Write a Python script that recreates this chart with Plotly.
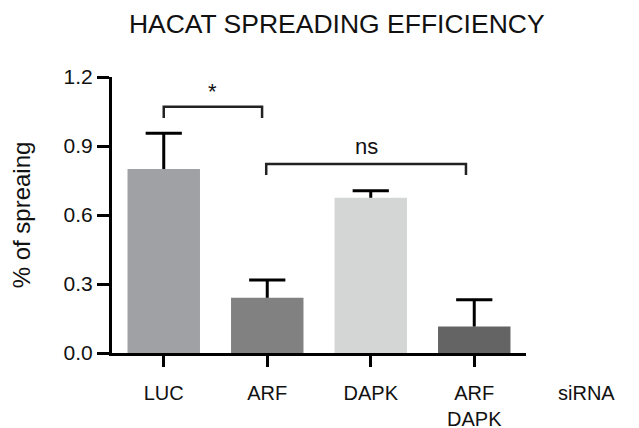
import plotly.graph_objects as go

categories = ["LUC", "ARF", "DAPK", "ARF<br>DAPK"]
values = [0.80, 0.24, 0.675, 0.115]
errors_up = [0.155, 0.077, 0.030, 0.116]
bar_colors = ["#a0a1a5", "#808180", "#d4d5d5", "#646464"]
y_ticks = [0.0, 0.3, 0.6, 0.9, 1.2]
y_tick_labels = ["0.0", "0.3", "0.6", "0.9", "1.2"]

# significance brackets: (x_left, x_right, y_top, y_bottom, label, label_y)
brackets = [
    (0.0, 0.95, 1.071, 1.022, "*", 1.135),
    (0.99, 2.92, 0.822, 0.774, "ns", 0.90),
]

FONT = "Liberation Sans, Arial, sans-serif"
CAP = 0.175  # half cap width in category units

xs = list(range(len(categories)))

fig = go.Figure()
fig.add_trace(go.Bar(
    x=xs, y=values,
    marker=dict(color=bar_colors, line=dict(width=0)),
    width=0.7, showlegend=False,
))

# upward-only error bars built from the data
ex, ey = [], []
for i, v, e in zip(xs, values, errors_up):
    ex += [i, i, None, i - CAP, i + CAP, None]
    ey += [v, v + e, None, v + e, v + e, None]
fig.add_trace(go.Scatter(x=ex, y=ey, mode="lines",
                         line=dict(color="black", width=3),
                         showlegend=False, hoverinfo="skip"))

shapes = []
annotations = []
for xl, xr, yt, yb, lab, ly in brackets:
    shapes.append(dict(type="path",
                       path=f"M {xl} {yb} L {xl} {yt} L {xr} {yt} L {xr} {yb}",
                       xref="x", yref="y", line=dict(color="#222", width=2.5)))
    annotations.append(dict(x=(xl + xr) / 2, y=ly, xref="x", yref="y", text=lab,
                            showarrow=False, font=dict(size=22, color="#111", family=FONT)))

annotations.append(dict(x=1.145, y=-0.145, xref="paper", yref="paper", text="siRNA",
                        xanchor="center", yanchor="middle",
                        showarrow=False, font=dict(size=20, color="#111", family=FONT)))

fig.update_layout(
    width=631, height=420,
    margin=dict(l=104, r=113, t=69, b=75, autoexpand=False),
    paper_bgcolor="white", plot_bgcolor="white",
    title=dict(text="HACAT SPREADING EFFICIENCY", x=0.521, xanchor="center",
               y=0.963, yanchor="middle",
               font=dict(size=26.5, color="#111", family=FONT)),
    shapes=shapes, annotations=annotations,
)
fig.update_xaxes(
    range=[-0.5, 3.5], tickmode="array", tickvals=xs,
    ticktext=categories, showline=True, linecolor="black", linewidth=3,
    ticks="outside", ticklen=11, tickwidth=3, tickcolor="black",
    showgrid=False, zeroline=False, automargin=False,
    tickfont=dict(size=20, color="#111", family=FONT),
    ticklabelstandoff=9,
)
fig.update_yaxes(
    range=[0, 1.2], tickmode="array", tickvals=y_ticks, ticktext=y_tick_labels,
    showline=True, linecolor="black", linewidth=3,
    ticks="outside", ticklen=12, tickwidth=3, tickcolor="black",
    showgrid=False, zeroline=False, automargin=False,
    tickfont=dict(size=21, color="#111", family=FONT),
    title=dict(text="% of spreaing", font=dict(size=24, color="#111", family=FONT),
               standoff=36),
)

fig.write_html("out.html")
